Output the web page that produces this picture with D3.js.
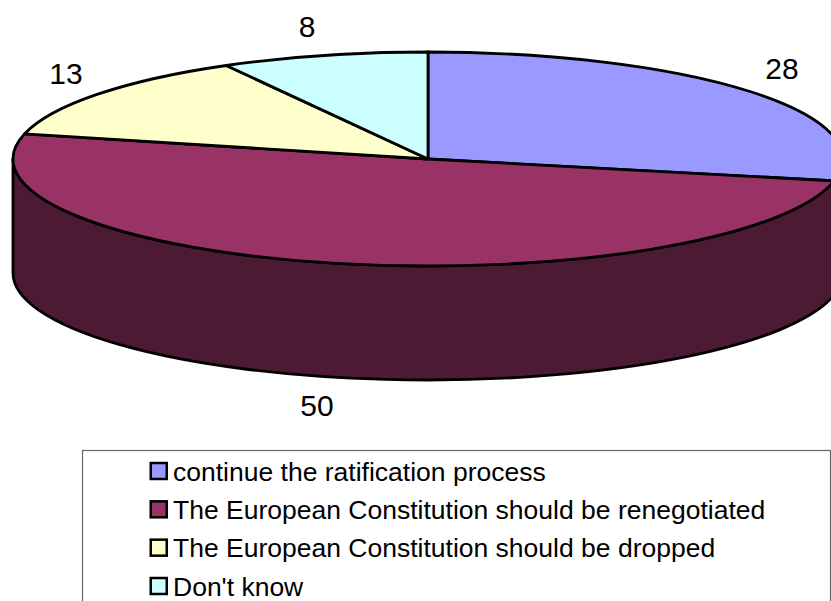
<!DOCTYPE html>
<html><head><meta charset="utf-8">
<style>html,body{margin:0;padding:0;background:#fff}svg{display:block}text{font-family:"Liberation Sans",Arial,sans-serif;fill:#000}</style>
<script src="https://cdn.jsdelivr.net/npm/d3@7"></script></head>
<body><svg id="c" width="831" height="601"></svg>
<script>
const categories=["continue the ratification process","The European Constitution should be renegotiated","The European Constitution should be dropped","Don't know"];
const values=[28,50,13,8];
const topColors=["#9999FF","#993366","#FFFFCC","#CCFFFF"];
const sideColors=["#4D4D80","#4D1A33","#808066","#668080"];
const labelPos=[[782,69],[317,406],[66,74],[307,27]];

const svg=d3.select("#c");
const cx=428,cy=159,rx=415,ry=107,depth=114;
const pie=d3.pie().sort(null).value(d=>d)(values);
const pt=(a,dy=0)=>[cx+rx*Math.sin(a),cy-ry*Math.cos(a)+dy];
const lo=Math.PI/2,hi=3*Math.PI/2;

// side wall
pie.forEach((s,i)=>{
  const a=Math.max(s.startAngle,lo),b=Math.min(s.endAngle,hi);
  if(b<=a)return;
  const [x0,y0]=pt(a),[x1,y1]=pt(b),[x2,y2]=pt(b,depth),[x3,y3]=pt(a,depth);
  const d=`M${x0},${y0}A${rx},${ry} 0 0 1 ${x1},${y1}L${x2},${y2}A${rx},${ry} 0 0 0 ${x3},${y3}Z`;
  svg.append("path").attr("d",d).attr("fill",sideColors[i]).attr("stroke","#000").attr("stroke-width",2.8).attr("stroke-linejoin","round");
});

// top slices
const arc=d3.arc().innerRadius(0).outerRadius(rx);
svg.append("g").attr("transform",`translate(${cx},${cy}) scale(1,${ry/rx})`)
  .selectAll("path").data(pie).join("path")
  .attr("d",arc).attr("fill",(d,i)=>topColors[i])
  .attr("stroke","#000").attr("stroke-width",2.8).attr("vector-effect","non-scaling-stroke").attr("stroke-linejoin","round");

// data labels
svg.append("g").selectAll("text").data(values).join("text")
  .attr("x",(d,i)=>labelPos[i][0]).attr("y",(d,i)=>labelPos[i][1]+9.5)
  .attr("text-anchor","middle").attr("font-size",30).text(d=>d);

// legend
svg.append("rect").attr("x",82.5).attr("y",450.5).attr("width",748).attr("height",170).attr("fill","#fff").attr("stroke","#666").attr("stroke-width",1.2);
const ly=d3.scalePoint().domain(d3.range(categories.length)).range([471,586]);
categories.forEach((c,i)=>{
  svg.append("rect").attr("x",150.75).attr("y",ly(i)-8).attr("width",16).attr("height",16).attr("fill",topColors[i]).attr("stroke","#000").attr("stroke-width",2.5);
  svg.append("text").attr("x",173).attr("y",ly(i)+9.5).attr("font-size",26.5).text(c);
});
</script></body></html>
